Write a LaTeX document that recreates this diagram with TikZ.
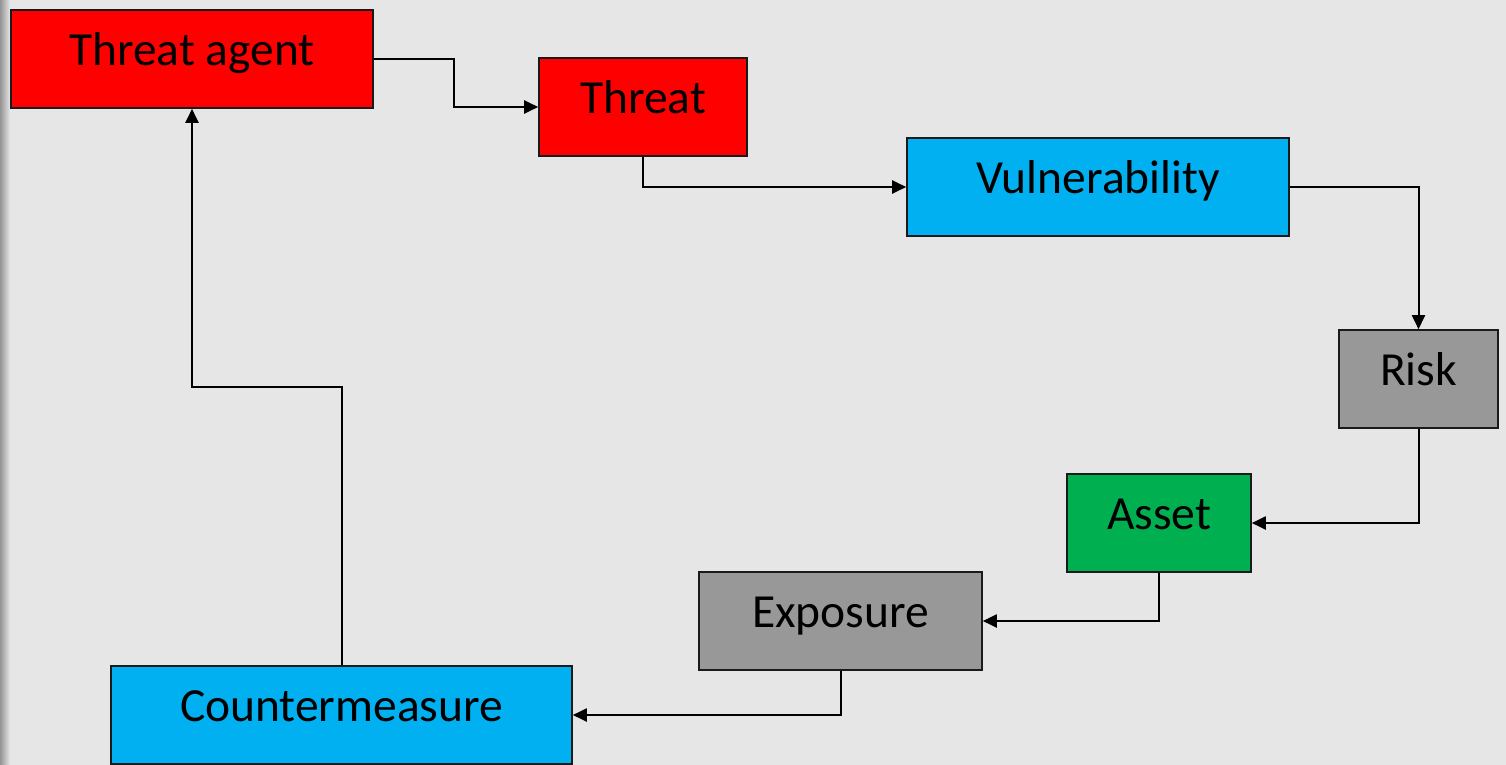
\documentclass[tikz,border=0pt]{standalone}
\usepackage{fontspec}
\setmainfont{Carlito}
\usetikzlibrary{arrows.meta}
\definecolor{bg}{HTML}{E6E6E6}
\definecolor{cred}{HTML}{FF0000}
\definecolor{cblue}{HTML}{00B0F0}
\definecolor{cgray}{HTML}{989898}
\definecolor{cgreen}{HTML}{00B050}
\definecolor{edge}{HTML}{1A1A1A}
\begin{document}
\begin{tikzpicture}[x=1pt,y=-1pt,
  box/.style={draw=edge, line width=1.6pt, minimum height=98pt, inner sep=0pt,
    text height=30pt, text depth=17pt, font=\fontsize{47.5}{50}\selectfont},
  arr/.style={draw=black, line width=2pt, -{Triangle[length=14pt,width=13pt]}},
  ln/.style={draw=black, line width=2pt}]
\useasboundingbox (0,0) rectangle (1506,765);
\fill[bg] (0,0) rectangle (1506,765);
\shade[left color=black!42, right color=bg] (0,0) rectangle (10,765);
\node[box, fill=cred, minimum width=362pt] (ta) at (192,59) {Threat agent};
\node[box, fill=cred, minimum width=208pt] (th) at (643,107) {Threat};
\node[box, fill=cblue, minimum width=382pt] (vu) at (1098,187) {Vulnerability};
\node[box, fill=cgray, minimum width=159pt] (ri) at (1418.5,379) {Risk};
\node[box, fill=cgreen, minimum width=184pt] (as) at (1159,523) {Asset};
\node[box, fill=cgray, minimum width=283pt] (ex) at (840.5,621) {Exposure};
\node[box, fill=cblue, minimum width=461pt] (cm) at (341.5,715) {Countermeasure};
\draw[arr] (ta.east) -- ++(80,0) |- (th.west);
\draw[arr] (th.south) |- (vu.west);
\draw[arr] (vu.east) -| (ri.north);
\draw[arr] (ri.south) |- (as.east);
\draw[arr] (as.south) |- (ex.east);
\draw[arr] (ex.south) |- (cm.east);
\draw[arr] (cm.north) -- ++(0,-278) -| (ta.south);
\end{tikzpicture}
\end{document}
